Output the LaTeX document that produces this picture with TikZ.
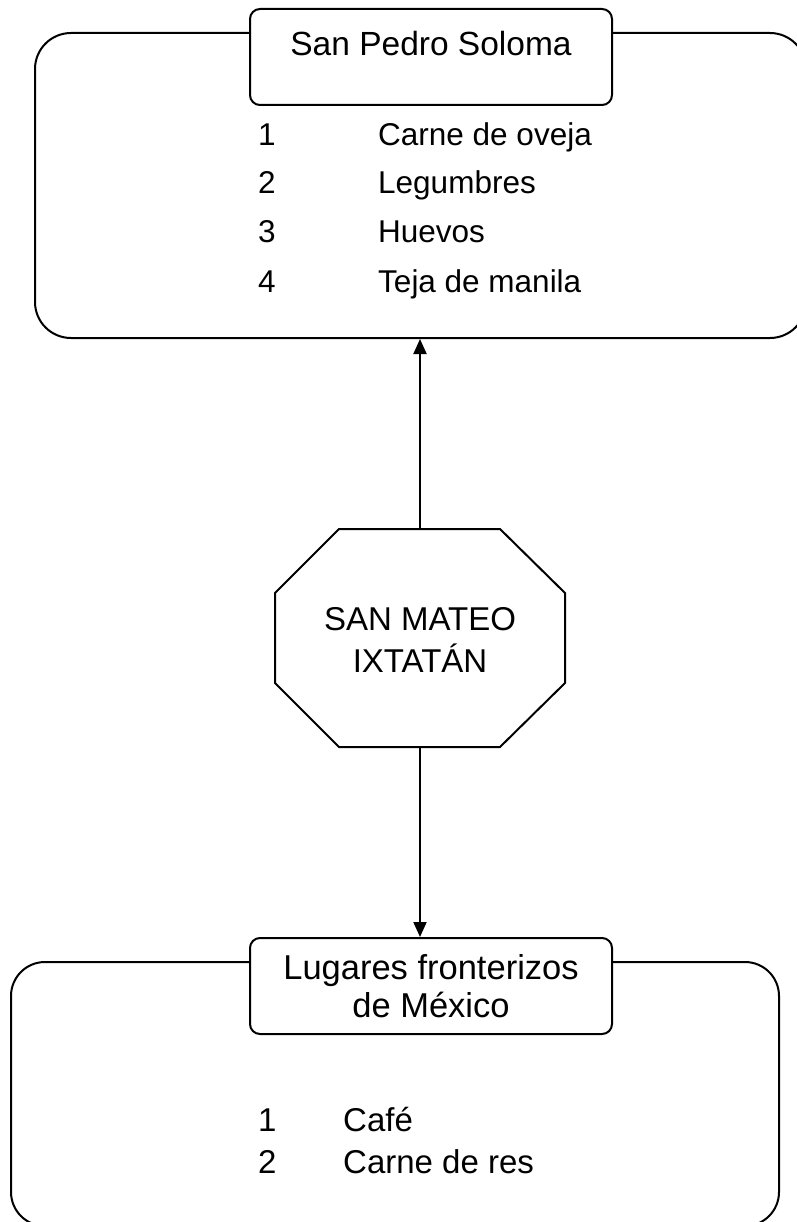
\documentclass[tikz,border=0pt]{standalone}
\usepackage{fontspec}
\setmainfont{Liberation Sans}
\usetikzlibrary{arrows.meta}

\tikzset{
  region/.style={draw, line width=2pt, rounded corners=36pt, inner sep=0pt},
  title/.style={draw, fill=white, line width=2pt, rounded corners=10pt, inner sep=0pt,
    minimum width=362pt, align=center, font=\fontsize{33.5}{38}\selectfont},
  entry/.style={anchor=base west, inner sep=0pt, font=\fontsize{31.5}{37}\selectfont},
  flow/.style={line width=2pt, -{Triangle[length=15pt,width=13pt]}}
}

\begin{document}
\begin{tikzpicture}[x=1pt, y=-1pt]
  \useasboundingbox (0,0) rectangle (796,1222);

  % San Pedro Soloma
  \node[region, minimum width=771pt, minimum height=305pt] (soloma) at (420.5,185.5) {};
  \node[title, text height=47pt, text depth=49pt] (soloma-title) at (431,57) {San Pedro Soloma};

  \node[entry] (num-1) at (258,146) {1};
  \node[entry] (item-1) at (378,146) {Carne de oveja};
  \node[entry] (num-2) at (258,194) {2};
  \node[entry] (item-2) at (378,194) {Legumbres};
  \node[entry] (num-3) at (258,243) {3};
  \node[entry] (item-3) at (378,243) {Huevos};
  \node[entry] (num-4) at (258,292) {4};
  \node[entry] (item-4) at (378,292) {Teja de manila};

  % San Mateo
  \node[minimum width=290pt, minimum height=218pt, align=center,
    font=\fontsize{33}{39}\selectfont] (mateo) at (420,638) {\strut SAN MATEO\\IXTATÁN};
  \draw[line width=2pt, shift={(mateo.center)}]
    (-81,-109) -- (80,-109) -- (145,-45) -- (145,45) -- (80,109)
    -- (-81,109) -- (-145,45) -- (-145,-45) -- cycle;

  % Mexico
  \node[region, rounded corners=34pt, minimum width=768pt, minimum height=264pt] (frontera) at (395,1094) {};
  \node[title, minimum height=96pt, font=\fontsize{34.5}{38}\selectfont] (frontera-title) at (431,986) {Lugares fronterizos\\de México};

  \node[entry, font=\fontsize{33}{37}\selectfont] (num-5) at (258,1131) {1};
  \node[entry, font=\fontsize{33}{37}\selectfont] (item-5) at (343,1131) {Café};
  \node[entry, font=\fontsize{33}{37}\selectfont] (num-6) at (258,1173) {2};
  \node[entry, font=\fontsize{33}{37}\selectfont] (item-6) at (343,1173) {Carne de res};

  \draw[flow] (mateo.north) -- (mateo.north |- soloma.south);
  \draw[flow] (mateo.south) -- (mateo.south |- frontera-title.north);

\end{tikzpicture}
\end{document}
